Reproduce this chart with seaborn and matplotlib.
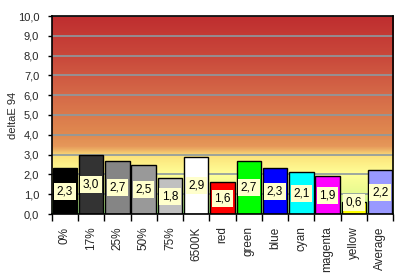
import numpy as np
import matplotlib
matplotlib.use("Agg")
import matplotlib.pyplot as plt
import seaborn as sns
from matplotlib.colors import LinearSegmentedColormap

# measured patches and their delta E 94 values
categories = ["0%", "17%", "25%", "50%", "75%", "6500K", "red", "green",
              "blue", "cyan", "magenta", "yellow", "Average"]
delta_e = [2.3, 3.0, 2.7, 2.5, 1.8, 2.9, 1.6, 2.7, 2.3, 2.1, 1.9, 0.6, 2.2]
bar_colors = ["#000000", "#333333", "#858585", "#999999", "#C0C0C0", "#FFFFFF",
              "#FF0000", "#00FF00", "#0000FF", "#00FFFF", "#FF00FF", "#FFFF00",
              "#9999FF"]
y_ticks = [0, 1, 2, 3, 4, 5, 6, 7, 8, 9, 10]

# background gradient stops (value, colour)
grad_stops = [(0.0, "#9CF58A"), (1.0, "#E6FA90"), (2.0, "#FFFF98"),
              (2.9, "#FCE47C"), (3.4, "#E6985A"), (4.0, "#E08A50"),
              (6.0, "#D56A48"), (8.0, "#C9483B"), (10.0, "#BF2E2F")]

sns.set_theme(style="white")
plt.rcParams["font.family"] = ["Liberation Sans", "DejaVu Sans"]

fig = plt.figure(figsize=(4.01, 2.77), dpi=100)
ax = fig.add_axes([51.7 / 401, 63 / 277, (393.3 - 51.7) / 401, (214 - 16) / 277])

cmap = LinearSegmentedColormap.from_list(
    "bg", [(v / 10.0, c) for v, c in grad_stops])
grad = np.linspace(0, 1, 400).reshape(-1, 1)
ax.imshow(grad, cmap=cmap, aspect="auto", origin="lower",
          extent=(-0.5, len(categories) - 0.5, 0, 10), zorder=0)

for t in y_ticks[1:]:
    ax.axhline(t, color="#8C9AA0", lw=1.2, zorder=1)

sns.barplot(x=categories, y=delta_e, hue=categories, palette=bar_colors,
            legend=False, width=0.93, edgecolor="black", linewidth=1.0,
            saturation=1, ax=ax, zorder=2)

for i, v in enumerate(delta_e):
    ax.text(i, max(v / 2, 0.57), f"{v:.1f}".replace(".", ","),
            ha="center", va="center", fontsize=8.5, color="black", zorder=4,
            bbox=dict(boxstyle="square,pad=0.22", fc="#FFFFCC", ec="none"))

ax.set_xlim(-0.5, len(categories) - 0.5)
ax.set_ylim(0, 10)
ax.set_yticks(y_ticks)
ax.set_yticklabels([f"{t:.1f}".replace(".", ",") for t in y_ticks], fontsize=8)
ax.set_xticks(range(len(categories)))
ax.set_xticklabels(categories, rotation=90, fontsize=8.5, va="top")
ax.tick_params(axis="x", length=0, pad=9)
ax.tick_params(axis="y", length=3, width=1, color="black", left=True, pad=6)
# category boundary ticks
ax.set_xticks(np.arange(-0.5, len(categories), 1), minor=True)
ax.tick_params(axis="x", which="minor", length=5, width=1, color="black",
               bottom=True)
ax.set_ylabel("deltaE 94", fontsize=8, labelpad=0)
ax.set_xlabel("")
for s in ax.spines.values():
    s.set_visible(True)
    s.set_color("black")
    s.set_linewidth(1.2)

fig.savefig("out.png", dpi=100)
